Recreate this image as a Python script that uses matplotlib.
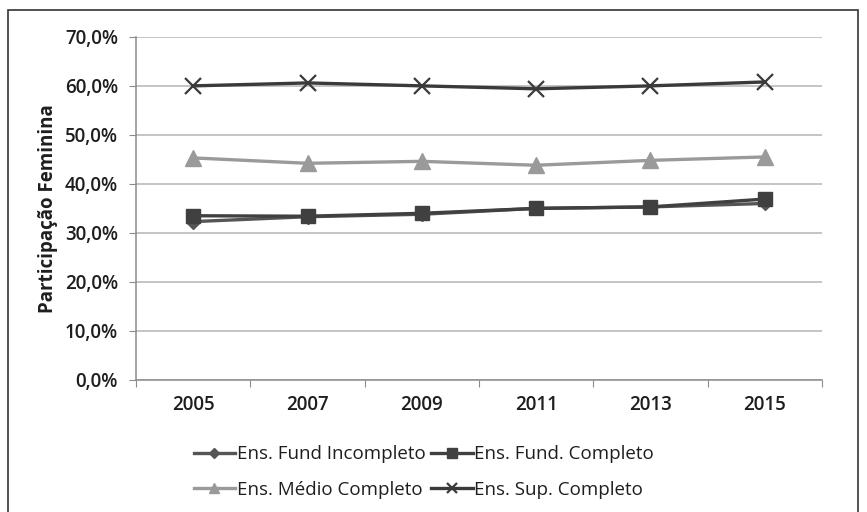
import matplotlib.pyplot as plt
from matplotlib.patches import Rectangle
from matplotlib.ticker import FuncFormatter

plt.rcParams['font.family'] = ['Open Sans', 'DejaVu Sans']

anos = ["2005", "2007", "2009", "2011", "2013", "2015"]
fund_incompleto = [32.3, 33.3, 33.8, 35.0, 35.3, 36.0]
fund_completo = [33.5, 33.4, 34.0, 35.0, 35.3, 36.9]
medio_completo = [45.3, 44.2, 44.6, 43.8, 44.8, 45.5]
sup_completo = [60.0, 60.6, 60.0, 59.4, 60.0, 60.8]

fig = plt.figure(figsize=(8.67, 5.12), dpi=100)
ax = fig.add_axes([0.157, 0.258, 0.791, 0.670])

x = list(range(len(anos)))
l1, = ax.plot(x, fund_incompleto, color="#555555", lw=2.4, marker="D", ms=7,
              label="Ens. Fund Incompleto", zorder=3)
l2, = ax.plot(x, fund_completo, color="#404040", lw=2.4, marker="s", ms=10,
              label="Ens. Fund. Completo", zorder=4)
l3, = ax.plot(x, medio_completo, color="#9a9a9a", lw=2.4, marker="^", ms=11,
              label="Ens. Médio Completo", zorder=3)
l4, = ax.plot(x, sup_completo, color="#3a3a3a", lw=2.4, marker="x", ms=11,
              mew=1.6, label="Ens. Sup. Completo", zorder=3)

ax.set_xlim(-0.5, len(anos) - 0.5)
ax.set_ylim(0, 70)
ax.set_yticks(range(0, 71, 10))
ax.yaxis.set_major_formatter(FuncFormatter(lambda v, p: f"{v:.1f}%".replace(".", ",")))
ax.set_xticks([i - 0.5 for i in range(len(anos) + 1)])
ax.set_xticklabels([])
ax.set_xticks(x, minor=True)
ax.set_xticklabels(anos, minor=True)
ax.tick_params(axis="x", which="minor", length=0, pad=11, labelsize=13.5, colors="#1e1e1e")
ax.tick_params(axis="x", which="major", length=5, color="#8c8c8c")
ax.tick_params(axis="y", length=5, color="#8c8c8c", labelsize=13.5, labelcolor="#1e1e1e", pad=8)
for lab in ax.get_xticklabels(minor=True) + ax.get_yticklabels():
    lab.set_fontweight("semibold")

ax.grid(axis="y", color="#b4b4b4", lw=1.1)
ax.set_axisbelow(True)
for s in ["top", "right"]:
    ax.spines[s].set_visible(False)
for s in ["left", "bottom"]:
    ax.spines[s].set_color("#8c8c8c")
    ax.spines[s].set_linewidth(1.1)

ax.set_ylabel("Participação Feminina", fontsize=13.5, fontweight="bold", color="#1e1e1e", labelpad=5)

fig.legend(handles=[l1, l3, l2, l4], ncol=2, loc="center", bbox_to_anchor=(0.489, 0.078),
           frameon=False, fontsize=13.5, handlelength=2.2, handletextpad=0.1,
           columnspacing=0.3, labelspacing=0.95, markerscale=0.7, labelcolor="#1e1e1e")

fig.patches.append(Rectangle((8 / 867, -0.05), 850 / 867, 1.05 - 10 / 512, transform=fig.transFigure,
                             fill=False, edgecolor="#333333", lw=1.2))

fig.savefig("out.png", dpi=100)
